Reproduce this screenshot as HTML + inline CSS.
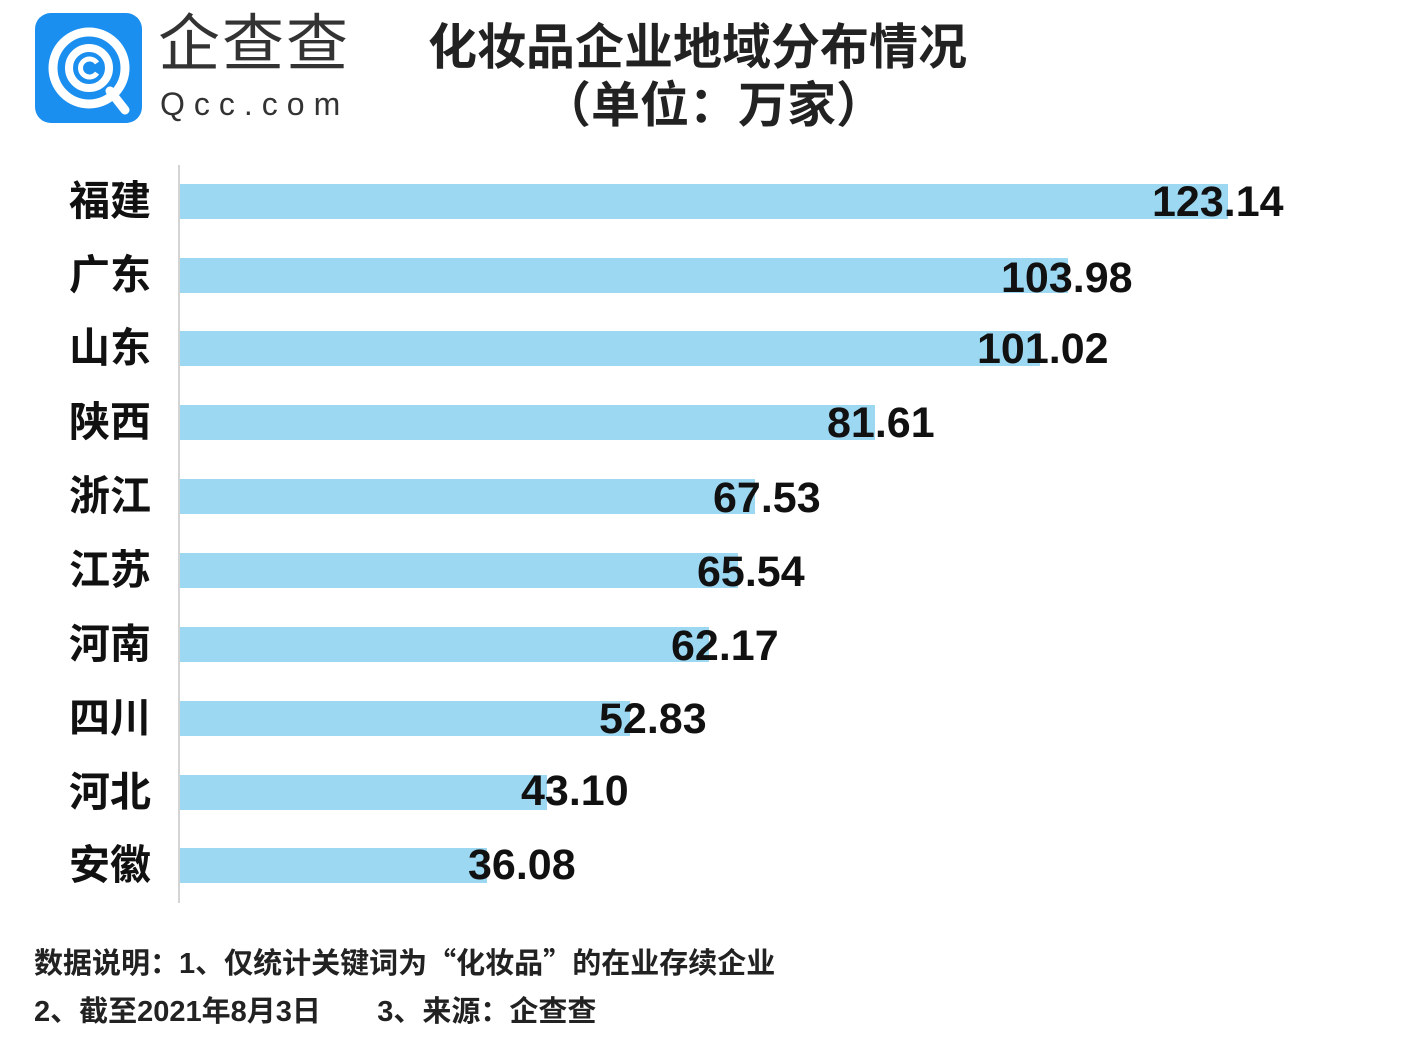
<!DOCTYPE html>
<html><head><meta charset="utf-8"><style>
body{margin:0;width:1402px;height:1046px;background:#fff;position:relative;overflow:hidden;font-family:"Liberation Sans","Noto Sans CJK SC",sans-serif;}
.a{position:absolute;white-space:nowrap;}
.bar{position:absolute;left:180px;height:35px;background:#9dd8f3;}
.cat{position:absolute;left:69px;font-size:41px;font-weight:bold;line-height:40px;color:#111;}
.val{position:absolute;font-size:43px;font-weight:bold;line-height:43px;color:#111;}
.title{font-weight:bold;font-size:49px;color:#222;}
.foot{font-weight:bold;font-size:29px;color:#222;}
</style></head><body>
<svg class="a" style="left:35px;top:13px" width="108" height="111" viewBox="0 0 108 111">
<rect width="107" height="110" rx="16" fill="#1b8ff0"/>
<circle cx="54" cy="55" r="36" fill="none" stroke="#fff" stroke-width="9"/>
<circle cx="54" cy="55" r="20" fill="none" stroke="#fff" stroke-width="8"/>
<line x1="75" y1="78" x2="90" y2="97" stroke="#fff" stroke-width="9" stroke-linecap="round"/>
<path d="M62 50 A9 9 0 1 0 62 60" fill="none" stroke="#fff" stroke-width="5"/>
</svg>
<div class="a" style="left:158px;top:12px;font-size:62px;color:#333;letter-spacing:2px;line-height:66px;">企查查</div>
<div class="a" style="left:160px;top:86px;font-size:32px;color:#333;letter-spacing:9px;line-height:36px;">Qcc.com</div>
<div class="a title" style="left:428px;top:20px;line-height:56px;">化妆品企业地域分布情况</div>
<div class="a title" style="left:542px;top:78px;line-height:56px;">（单位：万家）</div>
<div class="a" style="left:178px;top:165px;width:2px;height:738px;background:#d4d4d4;"></div>

<div class="bar" style="top:184px;width:1048px"></div>
<div class="bar" style="top:258px;width:888px"></div>
<div class="bar" style="top:331px;width:860px"></div>
<div class="bar" style="top:405px;width:695px"></div>
<div class="bar" style="top:479px;width:575px"></div>
<div class="bar" style="top:553px;width:558px"></div>
<div class="bar" style="top:627px;width:529px"></div>
<div class="bar" style="top:701px;width:450px"></div>
<div class="bar" style="top:775px;width:367px"></div>
<div class="bar" style="top:848px;width:307px"></div>

<div class="cat" style="top:181px">福建</div>
<div class="cat" style="top:255px">广东</div>
<div class="cat" style="top:328px">山东</div>
<div class="cat" style="top:402px">陕西</div>
<div class="cat" style="top:476px">浙江</div>
<div class="cat" style="top:550px">江苏</div>
<div class="cat" style="top:624px">河南</div>
<div class="cat" style="top:698px">四川</div>
<div class="cat" style="top:772px">河北</div>
<div class="cat" style="top:845px">安徽</div>

<div class="val" style="left:1152px;top:181px">123.14</div>
<div class="val" style="left:1001px;top:257px">103.98</div>
<div class="val" style="left:977px;top:328px">101.02</div>
<div class="val" style="left:827px;top:402px">81.61</div>
<div class="val" style="left:713px;top:477px">67.53</div>
<div class="val" style="left:697px;top:551px">65.54</div>
<div class="val" style="left:671px;top:625px">62.17</div>
<div class="val" style="left:599px;top:698px">52.83</div>
<div class="val" style="left:521px;top:770px">43.10</div>
<div class="val" style="left:468px;top:844px">36.08</div>

<div class="a foot" style="left:34px;top:944px;line-height:34px;">数据说明：1、仅统计关键词为<span style="font-family:'Noto Sans CJK SC',sans-serif">“</span>化妆品<span style="font-family:'Noto Sans CJK SC',sans-serif">”</span>的在业存续企业</div>
<div class="a foot" style="left:34px;top:995px;line-height:34px;">2、截至2021年8月3日&nbsp;&nbsp;&nbsp;&nbsp;&nbsp;&nbsp;&nbsp;3、来源：企查查</div>
</body></html>
